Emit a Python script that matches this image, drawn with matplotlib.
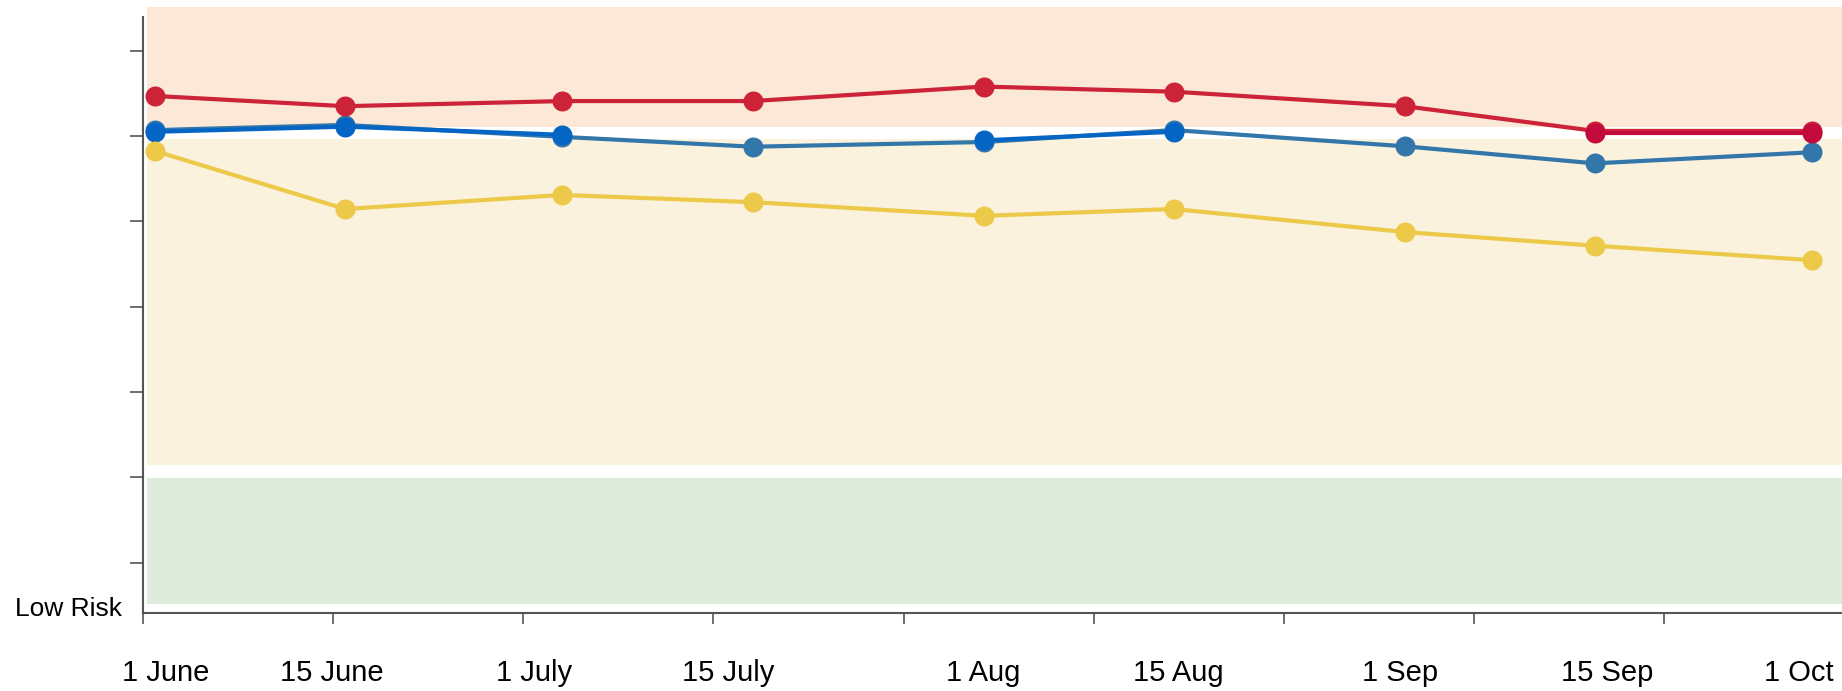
import numpy as np
import matplotlib
matplotlib.use('Agg')
import matplotlib.pyplot as plt
from matplotlib.ticker import FixedLocator, NullFormatter
from matplotlib.transforms import ScaledTranslation

plt.rcParams['font.family'] = ['Liberation Sans', 'DejaVu Sans']

# days counted from 1 June
days = [0, 14, 30, 44, 61, 75, 92, 106, 122]
date_labels = ['1 June', '15 June', '1 July', '15 July', '1 Aug',
               '15 Aug', '1 Sep', '15 Sep', '1 Oct']

red_main = [6.47, 6.35, 6.41, 6.41, 6.58, 6.52, 6.35, 6.06, 6.06]
red_dark = [np.nan] * 7 + [6.04, 6.04]
blue_steel = [6.07, 6.13, 5.99, 5.875, 5.93, 6.07, 5.88, 5.68, 5.81]
blue_bright = [6.05, 6.11, 6.015, np.nan, 5.95, 6.05, np.nan, np.nan, np.nan]
yellow = [5.825, 5.145, 5.31, 5.225, 5.065, 5.145, 4.875, 4.715, 4.545]

# risk bands (bottom, top)
band_low = (0.51, 1.99)
band_mid = (2.15, 5.97)
band_high = (6.11, 7.52)

x_lo, x_hi = -0.88, 124.2
y_lo, y_hi = 0.407, 7.516

fig = plt.figure(figsize=(18.42, 6.91), dpi=100)
ax = fig.add_axes([143 / 1842, 0.1125, 1 - 143 / 1842, 0.8778])

band_x = [-0.59, x_hi + 5]
ax.fill_between(band_x, *band_low, color='#DEECDB', lw=0, zorder=0)
ax.fill_between(band_x, *band_mid, color='#FAF2DC', lw=0, zorder=0)
ax.fill_between(band_x, *band_high, color='#FCE8D6', lw=0, zorder=0)

kw = dict(lw=3, marker='o', markersize=14.4, markeredgewidth=0)
ax.plot(days, blue_steel, color='#3376A9', zorder=3, **kw)
ax.plot(days, blue_bright, color='#0565C4', zorder=4, **kw)
ax.plot(days, red_main, color='#CD2339', zorder=5, **kw)
ax.plot(days, red_dark, color='#C20B3C', zorder=6, **kw)
ax.plot(days, yellow, color='#EDC94A', zorder=7, **kw)

ax.set_xlim(x_lo, x_hi)
ax.set_ylim(y_lo, y_hi)

for s in ['top', 'right']:
    ax.spines[s].set_visible(False)
for s in ['left', 'bottom']:
    ax.spines[s].set_color('#555555')
    ax.spines[s].set_linewidth(1.5)
ax.spines['left'].set_bounds(y_lo, 7.395)

# tick marks every 14 days, labels at the sample dates
ax.xaxis.set_minor_locator(FixedLocator(np.arange(x_lo, x_hi, 14)))
ax.xaxis.set_minor_formatter(NullFormatter())
ax.set_xticks(days)
ax.set_xticklabels(date_labels, fontsize=21)
ax.tick_params(axis='x', which='major', length=0, pad=33)
ax.tick_params(axis='x', which='minor', length=8, width=1.2, color='#555555')

# labels in the original sit a little off their dates
label_shift_px = [11, -13, -28, -24, 0, 5, -5, 12, -13]
for lab, dx in zip(ax.get_xticklabels(), label_shift_px):
    lab.set_transform(lab.get_transform() + ScaledTranslation(dx / 100, 0, fig.dpi_scale_trans))

ax.set_yticks([1, 2, 3, 4, 5, 6, 7])
ax.set_yticklabels([])
ax.tick_params(axis='y', length=9.5, width=1.2, color='#555555')

ax.annotate('Low Risk', xy=(0, y_lo), xycoords=('axes fraction', 'data'),
            xytext=(-15, -2), textcoords='offset points',
            ha='right', va='baseline', fontsize=19)

fig.savefig('out.png', dpi=100)
